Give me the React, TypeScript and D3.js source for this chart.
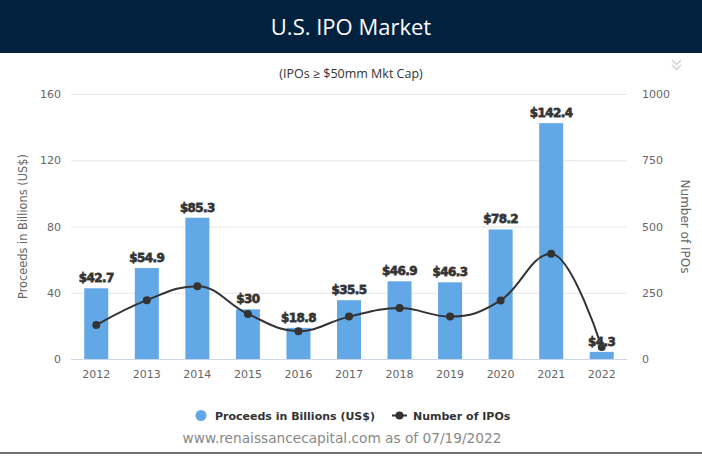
import React from "react";
import * as d3 from "d3";

const years = ["2012", "2013", "2014", "2015", "2016", "2017", "2018", "2019", "2020", "2021", "2022"];
const proceeds = [42.7, 54.9, 85.3, 30, 18.8, 35.5, 46.9, 46.3, 78.2, 142.4, 4.3];
const proceedLabels = ["$42.7", "$54.9", "$85.3", "$30", "$18.8", "$35.5", "$46.9", "$46.3", "$78.2", "$142.4", "$4.3"];
const ipoCounts = [128, 222, 275, 170, 105, 160, 192, 160, 221, 397, 45];
const leftTicks = [0, 40, 80, 120, 160];
const rightTicks = [0, 250, 500, 750, 1000];

const W = 702;
const H = 456;
const plot = { left: 71, right: 627, top: 94, bottom: 359 };
const FONT = "'DejaVu Sans', Verdana, sans-serif";
const TITLE_FONT = "'Open Sans', 'Noto Sans', sans-serif";

function splinePath(pts: [number, number][]): string {
  const p = d3.path();
  const smoothing = 1.5;
  const denom = smoothing + 1;
  const ctrl: { l: [number, number] | null; r: [number, number] | null }[] = pts.map(() => ({ l: null, r: null }));
  for (let i = 1; i < pts.length - 1; i++) {
    const [lx, ly] = pts[i - 1];
    const [px, py] = pts[i];
    const [nx, ny] = pts[i + 1];
    const lcx = (smoothing * px + lx) / denom;
    let lcy = (smoothing * py + ly) / denom;
    const rcx = (smoothing * px + nx) / denom;
    let rcy = (smoothing * py + ny) / denom;
    const correction = ((rcy - lcy) * (rcx - px)) / (rcx - lcx) + py - rcy;
    lcy += correction;
    rcy += correction;
    if (lcy > ly && lcy > py) {
      lcy = Math.max(ly, py);
      rcy = 2 * py - lcy;
    } else if (lcy < ly && lcy < py) {
      lcy = Math.min(ly, py);
      rcy = 2 * py - lcy;
    }
    if (rcy > ny && rcy > py) {
      rcy = Math.max(ny, py);
      lcy = 2 * py - rcy;
    } else if (rcy < ny && rcy < py) {
      rcy = Math.min(ny, py);
      lcy = 2 * py - rcy;
    }
    ctrl[i].l = [lcx, lcy];
    ctrl[i].r = [rcx, rcy];
  }
  p.moveTo(pts[0][0], pts[0][1]);
  for (let i = 1; i < pts.length; i++) {
    const c1 = ctrl[i - 1].r || pts[i - 1];
    const c2 = ctrl[i].l || pts[i];
    p.bezierCurveTo(c1[0], c1[1], c2[0], c2[1], pts[i][0], pts[i][1]);
  }
  return p.toString();
}

export default function App() {
  const x = d3.scaleBand<string>().domain(years).range([plot.left, plot.right]).paddingInner(0).paddingOuter(0);
  const yL = d3.scaleLinear().domain([0, 160]).range([plot.bottom, plot.top]);
  const yR = d3.scaleLinear().domain([0, 1000]).range([plot.bottom, plot.top]);
  const barW = 24;
  const cx = (y: string) => (x(y) as number) + x.bandwidth() / 2;
  const linePts: [number, number][] = years.map((yr, i) => [cx(yr), yR(ipoCounts[i])]);
  const midY = (plot.top + plot.bottom) / 2;

  return (
    <svg width={W} height={H} style={{ position: "absolute", left: 0, top: 0, background: "#fff" }}>
      <rect x={0} y={0} width={W} height={53} fill="#02213f" />
      <text x={351} y={35} textAnchor="middle" fill="#fff" fontFamily={TITLE_FONT} fontSize={22} fontWeight={500}>
        U.S. IPO Market
      </text>
      <text x={351} y={78} textAnchor="middle" fill="#333" fontFamily={TITLE_FONT} fontSize={12.5}>
        (IPOs ≥ $50mm Mkt Cap)
      </text>
      <g fill="none" stroke="#cfcfcf" strokeWidth={1.3}>
        <path d="M672,60 L676.5,64.5 L681,60" />
        <path d="M672,65 L676.5,69.5 L681,65" />
      </g>

      {leftTicks.map((t) => (
        <g key={"g" + t}>
          {t !== 0 && <line x1={plot.left} x2={plot.right} y1={yL(t) + 0.5} y2={yL(t) + 0.5} stroke="#e6e6e6" />}
          <text x={61} y={yL(t) + 4} textAnchor="end" fill="#666" fontFamily={FONT} fontSize={11}>
            {t}
          </text>
        </g>
      ))}
      {rightTicks.map((t) => (
        <text key={"r" + t} x={642} y={yR(t) + 4} textAnchor="start" fill="#666" fontFamily={FONT} fontSize={11}>
          {t}
        </text>
      ))}
      <text
        transform={`translate(27,${midY}) rotate(-90)`}
        textAnchor="middle"
        fill="#666"
        fontFamily={FONT}
        fontSize={11.4}
      >
        Proceeds in Billions (US$)
      </text>
      <text
        transform={`translate(681,${midY}) rotate(90)`}
        textAnchor="middle"
        fill="#666"
        fontFamily={FONT}
        fontSize={12}
      >
        Number of IPOs
      </text>

      {years.map((yr, i) => (
        <rect
          key={"b" + yr}
          x={cx(yr) - barW / 2}
          y={yL(proceeds[i])}
          width={barW}
          height={plot.bottom - yL(proceeds[i])}
          fill="#63a8e6"
        />
      ))}
      <line x1={plot.left} x2={plot.right} y1={plot.bottom + 0.5} y2={plot.bottom + 0.5} stroke="#ccd6eb" />
      {years.map((yr) => (
        <text key={"x" + yr} x={cx(yr)} y={378} textAnchor="middle" fill="#666" fontFamily={FONT} fontSize={11}>
          {yr}
        </text>
      ))}

      <path d={splinePath(linePts)} fill="none" stroke="#333" strokeWidth={2} />
      {linePts.map(([px, py], i) => (
        <circle key={"m" + i} cx={px} cy={py} r={4} fill="#333" />
      ))}

      {years.map((yr, i) => (
        <text
          key={"l" + yr}
          x={cx(yr)}
          y={yL(proceeds[i]) - 6}
          textAnchor="middle"
          fill="#333"
          stroke="#555"
          strokeWidth={0.8}
          paintOrder="stroke"
          fontFamily={FONT}
          fontSize={12}
          fontWeight="bold"
          letterSpacing={-0.6}
        >
          {proceedLabels[i]}
        </text>
      ))}

      <circle cx={201} cy={415.5} r={5.5} fill="#63a8e6" />
      <text x={215} y={420} fill="#333" fontFamily={FONT} fontSize={11} fontWeight="bold">
        Proceeds in Billions (US$)
      </text>
      <line x1={392} x2={407} y1={415.5} y2={415.5} stroke="#333" strokeWidth={2} />
      <circle cx={399.5} cy={415.5} r={4} fill="#333" />
      <text x={413} y={420} fill="#333" fontFamily={FONT} fontSize={11} fontWeight="bold">
        Number of IPOs
      </text>

      <text x={342} y={443} textAnchor="middle" fill="#888" fontFamily={FONT} fontSize={13.7}>
        www.renaissancecapital.com as of 07/19/2022
      </text>
      <line x1={0} x2={W} y1={453} y2={453} stroke="#444" strokeWidth={1.5} />
    </svg>
  );
}
